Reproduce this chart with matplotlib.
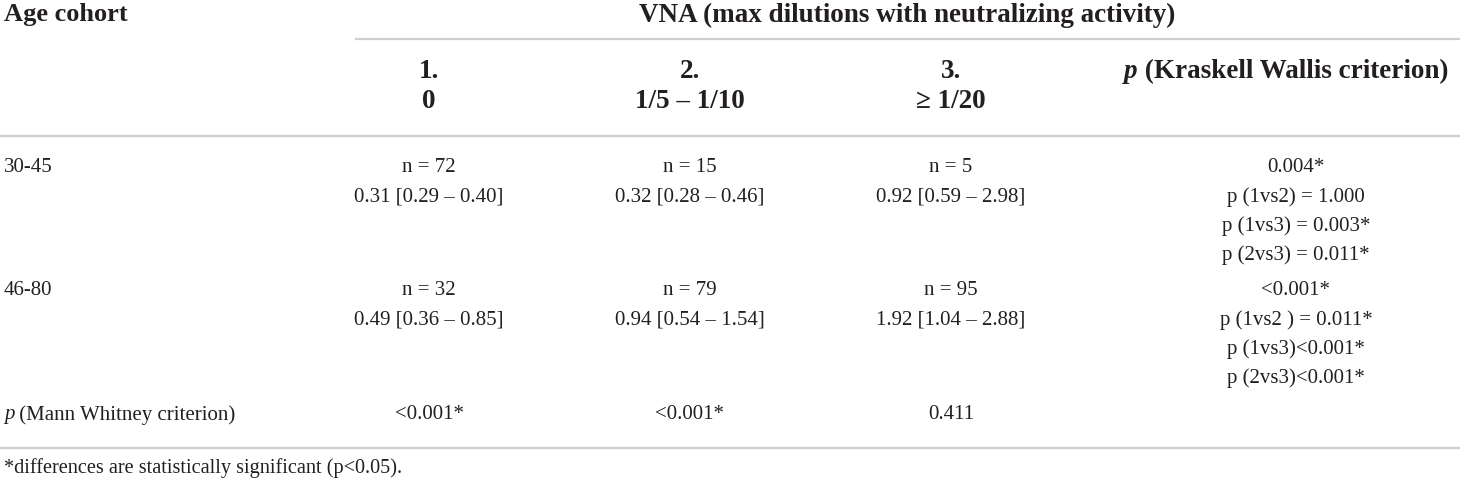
import matplotlib
matplotlib.use("Agg")
import matplotlib.pyplot as plt

# ---- data ----
age_cohorts = ["30-45", "46-80"]
group_numbers = ["1.", "2.", "3."]
group_ranges = ["0", "1/5 – 1/10", "≥ 1/20"]
n_values = [[72, 15, 5], [32, 79, 95]]
medians = [["0.31", "0.32", "0.92"], ["0.49", "0.94", "1.92"]]
q_low = [["0.29", "0.28", "0.59"], ["0.36", "0.54", "1.04"]]
q_high = [["0.40", "0.46", "2.98"], ["0.85", "1.54", "2.88"]]
kw_results = [
    ["0.004*", "p (1vs2) = 1.000", "p (1vs3) = 0.003*", "p (2vs3) = 0.011*"],
    ["<0.001*", "p (1vs2 ) = 0.011*", "p (1vs3)<0.001*", "p (2vs3)<0.001*"],
]
mw_results = ["<0.001*", "<0.001*", "0.411"]
header_left = "Age cohort"
header_vna = "VNA (max dilutions with neutralizing activity)"
header_kw = " (Kraskell Wallis criterion)"
row_mw = " (Mann Whitney criterion)"
footnote = "*differences are statistically significant (p<0.05)."

# ---- layout ----
W, H = 1460, 481
fig = plt.figure(figsize=(W / 100, H / 100), dpi=100)
ax = fig.add_axes([0, 0, 1, 1])
ax.set_xlim(0, W)
ax.set_ylim(H, 0)
ax.axis("off")

FONT = "Liberation Serif"
TXT = "#231f20"
BODY = 15
HEAD = 19.5
LINE_C = "#cfcfcf"
renderer = fig.canvas.get_renderer()


def mixed(x, y, parts, ha="left", size=BODY, weight="normal"):
    objs = []
    widths = []
    for s, style in parts:
        t = ax.text(0, y, s, fontsize=size, fontfamily=FONT, fontstyle=style,
                    fontweight=weight, color=TXT, va="center", ha="left")
        bb = t.get_window_extent(renderer)
        objs.append(t)
        widths.append(bb.width)
    total = sum(widths)
    if ha == "center":
        x0 = x - total / 2
    elif ha == "right":
        x0 = x - total
    else:
        x0 = x
    for t, w in zip(objs, widths):
        t.set_x(x0)
        x0 += w


def txt(x, y, s, ha="center", size=BODY, weight="normal"):
    ax.text(x, y, s, fontsize=size, fontfamily=FONT, fontweight=weight,
            color=TXT, va="center", ha=ha)


col_x = [429, 690, 951]
kw_x = 1296
left_x = 4
lh = 29

# header
txt(left_x, 15, header_left, ha="left", size=19, weight="bold")
txt(907, 15, header_vna, size=HEAD, weight="bold")
ax.plot([355, W], [40, 40], color=LINE_C, lw=1.6, solid_capstyle="butt")
for i in range(3):
    txt(col_x[i], 72, group_numbers[i], size=HEAD, weight="bold")
    txt(col_x[i], 101, group_ranges[i], size=HEAD, weight="bold")
mixed(1286, 72, [("p", "italic"), (header_kw, "normal")], ha="center",
      size=HEAD, weight="bold")
ax.plot([0, W], [137, 137], color=LINE_C, lw=1.6, solid_capstyle="butt")

# rows
row_y = [168, 291]
for r in range(2):
    y0 = row_y[r]
    txt(left_x, y0, age_cohorts[r], ha="left")
    for c in range(3):
        txt(col_x[c], y0, f"n = {n_values[r][c]}")
        txt(col_x[c], y0 + lh, f"{medians[r][c]} [{q_low[r][c]} – {q_high[r][c]}]")
    for k, s in enumerate(kw_results[r]):
        txt(kw_x, y0 + k * lh, s)

# Mann Whitney row
mw_y = 415
mixed(left_x, mw_y, [("p", "italic"), (row_mw, "normal")])
for c in range(3):
    txt(col_x[c], mw_y, mw_results[c])
ax.plot([0, W], [449, 449], color=LINE_C, lw=1.6, solid_capstyle="butt")

txt(left_x, 468, footnote, ha="left", size=14.6)

fig.savefig("out.png", dpi=100)
